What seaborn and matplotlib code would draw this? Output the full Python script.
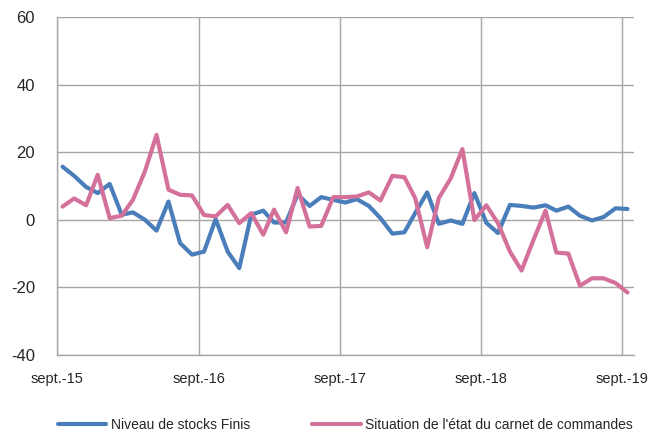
import pandas as pd
import matplotlib
matplotlib.use("Agg")
import matplotlib.pyplot as plt
import seaborn as sns

# monthly survey balances, sept. 2015 -> sept. 2019
months = pd.date_range("2015-09-01", "2019-09-01", freq="MS") + pd.Timedelta(days=14)

stocks_finis = [
    15.7, 13.0, 9.7, 7.9, 10.6, 1.5, 2.2, 0.0, -3.2, 5.4, -6.9, -10.3,
    -9.4, 0.2, -9.4, -14.3, 1.5, 2.7, -0.8, -0.8, 7.5, 4.1, 6.7, 5.9,
    5.1, 6.1, 4.1, 0.5, -4.1, -3.7, 2.0, 8.1, -1.2, -0.2, -1.2, 7.9,
    -0.9, -3.9, 4.4, 4.1, 3.6, 4.3, 2.7, 3.9, 1.2, -0.2, 0.8, 3.4,
    3.2,
]
carnet_commandes = [
    3.9, 6.3, 4.3, 13.3, 0.5, 1.2, 5.9, 14.3, 25.1, 8.9, 7.4, 7.2,
    1.4, 1.0, 4.4, -1.0, 2.0, -4.4, 3.0, -3.7, 9.4, -2.0, -1.8, 6.7,
    6.7, 6.9, 8.1, 5.7, 13.0, 12.6, 6.4, -8.1, 6.4, 12.3, 20.9, -0.1,
    4.3, -1.0, -9.4, -15.0, -5.9, 2.7, -9.7, -10.0, -19.5, -17.3, -17.3, -18.7,
    -21.5,
]
series_names = ["Niveau de stocks Finis", "Situation de l'état du carnet de commandes"]
series_colors = ["#4a7ebb", "#d4719a"]

tick_dates = pd.date_range("2015-09-01", "2019-09-01", freq="12MS")
tick_labels = ["sept.-15", "sept.-16", "sept.-17", "sept.-18", "sept.-19"]
y_ticks = [-40, -20, 0, 20, 40, 60]

df = pd.concat([
    pd.DataFrame({"date": months, "value": stocks_finis, "serie": series_names[0]}),
    pd.DataFrame({"date": months, "value": carnet_commandes, "serie": series_names[1]}),
])

sns.set_theme(style="white")
plt.rcParams["font.family"] = ["Liberation Sans", "DejaVu Sans"]

fig = plt.figure(figsize=(6.72, 4.33), dpi=100)
ax = fig.add_axes([0.085, 0.18, 0.858, 0.781])

sns.lineplot(
    data=df, x="date", y="value", hue="serie",
    palette=dict(zip(series_names, series_colors)),
    linewidth=3, ax=ax, legend=True,
)

ax.set_xlim(pd.Timestamp("2015-09-01"), pd.Timestamp("2019-10-01"))
ax.set_ylim(-40, 60)
ax.set_xticks(tick_dates)
ax.set_xticklabels(tick_labels, fontsize=10.5)
ax.set_yticks(y_ticks)
ax.set_yticklabels([str(v) for v in y_ticks], fontsize=12)
ax.tick_params(axis="x", pad=8, length=4, color="#a6a6a6", direction="out", width=1)
ax.tick_params(axis="y", pad=16, length=0)
ax.grid(True, color="#a6a6a6", linewidth=1)
ax.set_axisbelow(True)
ax.set_xlabel("")
ax.set_ylabel("")

for side in ["top", "right"]:
    ax.spines[side].set_visible(False)
for side in ["left", "bottom"]:
    ax.spines[side].set_color("#a6a6a6")
    ax.spines[side].set_linewidth(1)

ax.legend(
    loc="upper center", bbox_to_anchor=(0.5, -0.148), ncol=2, frameon=False,
    fontsize=10, handlelength=3.5, handletextpad=0.3, columnspacing=4.5,
)

fig.savefig("out.png", dpi=100)
